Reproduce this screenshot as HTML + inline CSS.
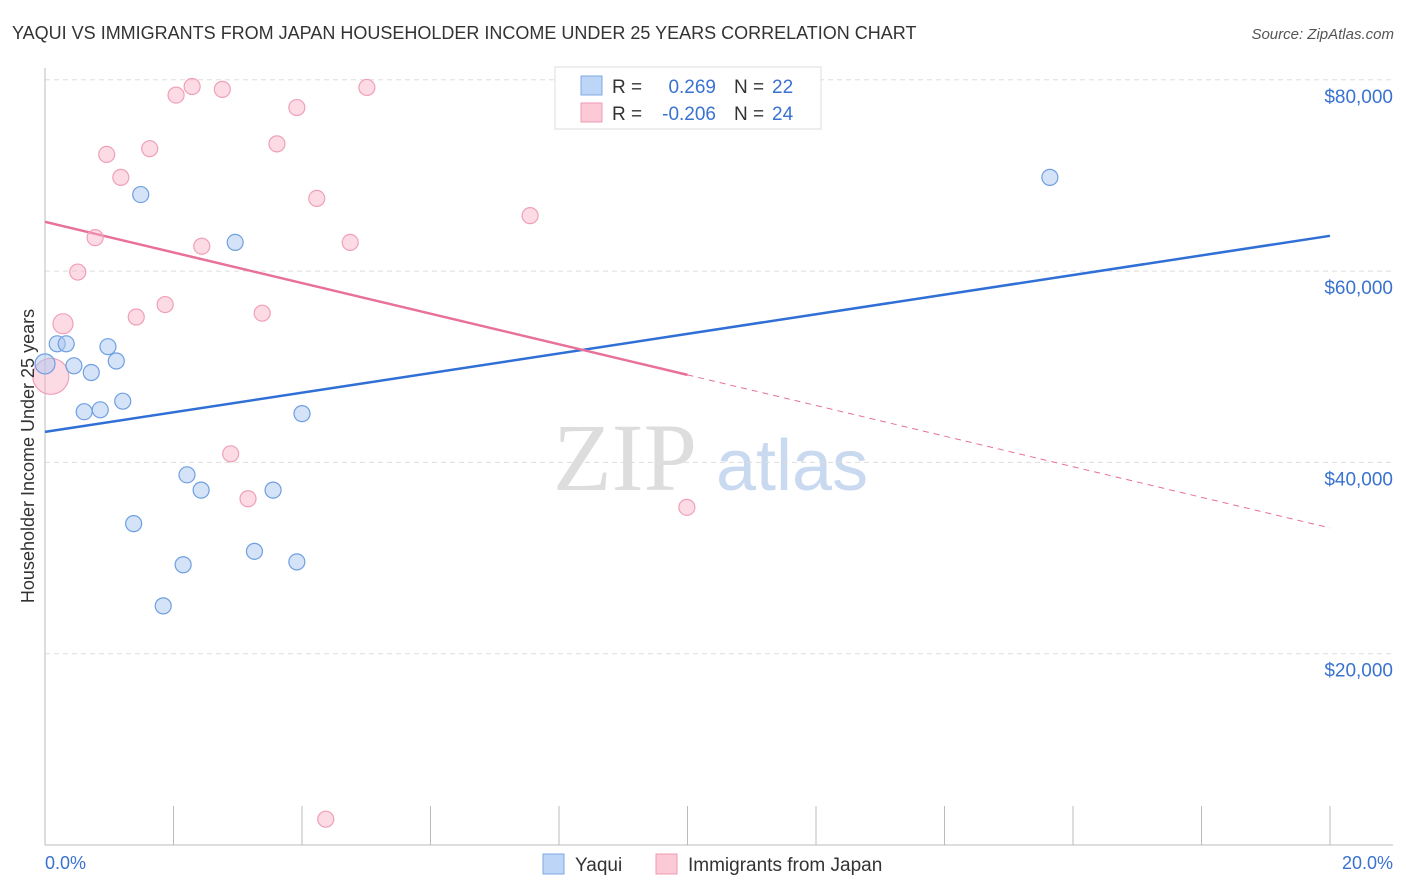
<!DOCTYPE html>
<html><head><meta charset="utf-8">
<style>
body{margin:0;background:#fff;font-family:"Liberation Sans",sans-serif;}
svg{display:block}
</style></head>
<body>
<svg id="chart" width="1406" height="892">
<text x="12" y="39" font-size="18" fill="#333">YAQUI VS IMMIGRANTS FROM JAPAN HOUSEHOLDER INCOME UNDER 25 YEARS CORRELATION CHART</text>
<text x="1394" y="39" font-size="15" fill="#555" font-style="italic" text-anchor="end">Source: ZipAtlas.com</text>
<g>
<text x="553" y="490" font-size="96" fill="#ddd" font-family="Liberation Serif,serif">ZIP</text>
<text x="716" y="490" font-size="72" fill="#c8d9f0">atlas</text>
</g>
<g id="grid"></g>
<g id="axes"></g>
<g id="trends"></g>
<g id="points"></g>
<text transform="translate(34,456) rotate(-90)" font-size="18" fill="#333" text-anchor="middle">Householder Income Under 25 years</text>
<text x="45" y="869" font-size="18" fill="#3a72d0">0.0%</text>
<text x="1393" y="869" font-size="18" fill="#3a72d0" text-anchor="end">20.0%</text>
<g>
<rect x="555" y="67" width="266" height="62" fill="#fff" stroke="#ddd"/>
<rect x="581" y="76" width="21" height="19" fill="#bdd5f7" stroke="#7fa8e6"/>
<rect x="581" y="103" width="21" height="19" fill="#fcc9d7" stroke="#f09bb3"/>
<text x="612" y="93" font-size="19" fill="#333">R =</text>
<text x="716" y="93" font-size="19" fill="#3a72d0" text-anchor="end">0.269</text>
<text x="734" y="93" font-size="19" fill="#333">N =</text>
<text x="772" y="93" font-size="19" fill="#3a72d0">22</text>
<text x="612" y="120" font-size="19" fill="#333">R =</text>
<text x="716" y="120" font-size="19" fill="#3a72d0" text-anchor="end">-0.206</text>
<text x="734" y="120" font-size="19" fill="#333">N =</text>
<text x="772" y="120" font-size="19" fill="#3a72d0">24</text>
</g>
<g>
<rect x="543" y="854" width="21" height="20" fill="#bdd5f7" stroke="#7fa8e6"/>
<text x="575" y="871" font-size="19" fill="#333">Yaqui</text>
</g>
<g>
<rect x="656" y="854" width="21" height="20" fill="#fcc9d7" stroke="#f09bb3"/>
<text x="688" y="871" font-size="19" fill="#333">Immigrants from Japan</text>
</g>
</svg>
<script>
const yTicks=[20000,40000,60000,80000];
const yTickLabels=["$20,000","$40,000","$60,000","$80,000"];
const xTicks=[0,2,4,6,8,10,12,14,16,18,20];
const yaquiX=[0.0,0.19,0.33,0.45,0.72,0.61,0.86,0.98,1.11,1.21,1.49,1.38,1.84,2.15,2.21,2.43,2.96,3.26,3.55,3.92,4.0,15.64];
const yaquiY=[50300,52400,52400,50100,49400,45300,45500,52100,50600,46400,68000,33600,25000,29300,38700,37100,63000,30700,37100,29600,45100,69800];
const yaquiR=[10,8,8,8,8,8,8,8,8,8,8,8,8,8,8,8,8,8,8,8,8,8];
const japanX=[0.09,0.28,0.51,0.78,0.96,1.18,1.42,1.63,1.87,2.04,2.29,2.44,2.76,2.89,3.16,3.38,3.61,3.92,4.23,4.37,4.75,5.01,7.55,9.99];
const japanY=[49000,54500,59900,63500,72200,69800,55200,72800,56500,78400,79300,62600,79000,40900,36200,55600,73300,77100,67600,2700,63000,79200,65800,35300];
const japanR=[18,10,8,8,8,8,8,8,8,8,8,8,8,8,8,8,8,8,8,8,8,8,8,8];
const yaquiTrend=[43190,63690];
const japanTrend=[65150,33150];
const japanSolidEnd=10;

const NS="http://www.w3.org/2000/svg";
const X0=45,X1=1330,Y0=845,PPV=191.3/20000;
function sx(v){return X0+(v/20)*(X1-X0);}
function sy(v){return Y0-v*PPV;}
function mk(tag,attrs,parent){const e=document.createElementNS(NS,tag);for(const k in attrs)e.setAttribute(k,attrs[k]);parent.appendChild(e);return e;}
const grid=document.getElementById('grid'),axes=document.getElementById('axes'),trends=document.getElementById('trends'),pts=document.getElementById('points');
yTicks.forEach((t,i)=>{
 const l=mk('line',{x1:X0,x2:1393,y1:sy(t),y2:sy(t),stroke:'#ddd','stroke-dasharray':'5,4'},grid);
 
 
 const tx=mk('text',{x:1393,y:sy(t)+23,'font-size':19,fill:'#3a72d0','text-anchor':'end'},grid);
 tx.textContent=yTickLabels[i];
 
 
});
const ya=mk('line',{x1:X0,x2:X0,y1:68,y2:Y0,stroke:'#bbb'},axes);


const xa=mk('line',{x1:X0,x2:1393,y1:Y0,y2:Y0,stroke:'#bbb'},axes);


xTicks.forEach(t=>{
 const k=mk('line',{x1:sx(t),x2:sx(t),y1:806,y2:Y0,stroke:'#bbb'},axes);
 
 
});
const bt=mk('line',{x1:sx(0),y1:sy(yaquiTrend[0]),x2:sx(20),y2:sy(yaquiTrend[1]),stroke:'#2f6fd6','stroke-width':2.5},trends);


const jm=japanTrend[0]+(japanTrend[1]-japanTrend[0])*japanSolidEnd/20;
const pt=mk('line',{x1:sx(0),y1:sy(japanTrend[0]),x2:sx(japanSolidEnd),y2:sy(jm),stroke:'#e8709a','stroke-width':2.5},trends);


const pd=mk('line',{x1:sx(japanSolidEnd),y1:sy(jm),x2:sx(20),y2:sy(japanTrend[1]),stroke:'#e8709a','stroke-width':1,'stroke-dasharray':'6,5'},trends);


japanX.forEach((x,i)=>{
 const c=mk('circle',{cx:sx(x),cy:sy(japanY[i]),r:japanR[i],fill:'rgba(248,175,198,0.45)',stroke:'#efa0b8','stroke-width':1.2},pts);
 
 
});
yaquiX.forEach((x,i)=>{
 const c=mk('circle',{cx:sx(x),cy:sy(yaquiY[i]),r:yaquiR[i],fill:'rgba(170,200,242,0.5)',stroke:'#6f9fe0','stroke-width':1.2},pts);
 
 
});
</script>
</body></html>
